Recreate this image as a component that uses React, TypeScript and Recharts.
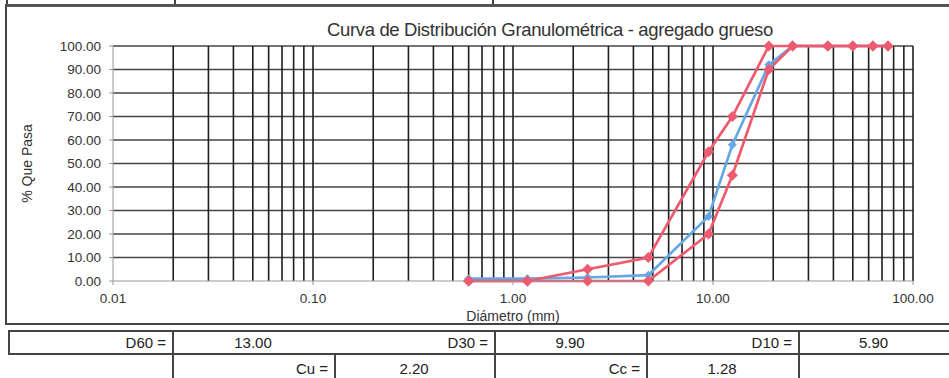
import { LineChart, Line, XAxis, YAxis, ReferenceLine } from "recharts";

// tamices (mm) y % que pasa
const sieveSizes = [0.6, 1.18, 2.36, 4.75, 9.5, 12.5, 19, 25, 37.5, 50, 63, 75];
const sample = [1, 1, 1.5, 2.5, 27.5, 58, 92, 100, 100, 100, 100, 100];
const upperLimit = [0, 0, 5, 10, 55, 70, 100, 100, 100, 100, 100, 100];
const lowerLimit = [0, 0, 0, 0, 20, 45, 90, 100, 100, 100, 100, 100];

const xTicks = [0.01, 0.1, 1, 10, 100];
const yTicks = [0, 10, 20, 30, 40, 50, 60, 70, 80, 90, 100];
const decades = [0.01, 0.1, 1, 10];
const multiples = [1, 2, 3, 4, 5, 6, 7, 8, 9];

const data = sieveSizes.map((d, i) => ({
  d,
  sample: sample[i],
  upper: upperLimit[i],
  lower: lowerLimit[i],
}));

const verticalGrid = [
  ...decades.flatMap((dec) => multiples.map((m) => +(dec * m).toPrecision(3))),
  100,
].filter((v) => v > 0.01);
const horizontalGrid = yTicks.filter((v) => v > 0);

const RED = "#ee5a6e";
const BLUE = "#66a8e6";
const FONT = "'Liberation Sans', Arial, sans-serif";

function diamond(color: string, r: number) {
  return (props: any) => {
    const { cx, cy, index } = props;
    if (cx == null || cy == null) return <g key={index} />;
    return (
      <polygon
        key={index}
        points={`${cx},${cy - r} ${cx + r},${cy} ${cx},${cy + r} ${cx - r},${cy}`}
        fill={color}
      />
    );
  };
}

const cell = (extra: React.CSSProperties): React.CSSProperties => ({
  position: "absolute",
  boxSizing: "border-box",
  fontFamily: FONT,
  fontSize: 15,
  color: "#222",
  display: "flex",
  alignItems: "center",
  ...extra,
});

export default function App() {
  const line = "2px solid #444";
  return (
    <div
      style={{
        position: "absolute",
        left: 0,
        top: 0,
        width: 949,
        height: 378,
        overflow: "hidden",
        background: "#fff",
      }}
    >
      {/* fila superior cortada */}
      <div style={{ position: "absolute", left: 6, top: 0, width: 2, height: 5, background: "#444" }} />
      <div style={{ position: "absolute", left: 174, top: 0, width: 2, height: 5, background: "#444" }} />
      <div style={{ position: "absolute", left: 492, top: 0, width: 2, height: 5, background: "#444" }} />

      {/* marco del grafico */}
      <div
        style={{
          position: "absolute",
          left: 5,
          top: 4,
          width: 980,
          height: 321,
          boxSizing: "border-box",
          borderTop: "3px solid #555",
          borderLeft: line,
          borderBottom: line,
        }}
      />

      <div
        style={{
          position: "absolute",
          left: 0,
          top: 19,
          width: 1100,
          textAlign: "center",
          fontFamily: FONT,
          fontSize: 18.5,
          letterSpacing: -0.35,
          color: "#333",
        }}
      >
        Curva de Distribución Granulométrica - agregado grueso
      </div>

      <div style={{ position: "absolute", left: 0, top: 0 }}>
        <LineChart
          width={949}
          height={330}
          data={data}
          margin={{ top: 46, right: 36, bottom: 0, left: 0 }}
        >
          <XAxis
            dataKey="d"
            type="number"
            scale="log"
            domain={[0.01, 100]}
            ticks={xTicks}
            allowDataOverflow
            tickFormatter={(v: number) => v.toFixed(2)}
            tick={{ fill: "#333", fontSize: 13.5, fontFamily: FONT }}
            stroke="#999"
            tickSize={4}
            tickMargin={8}
            height={49}
            label={{
              value: "Diámetro (mm)",
              position: "center",
              dy: 11,
              fill: "#333",
              fontSize: 14,
              fontFamily: FONT,
            }}
          />
          <YAxis
            type="number"
            domain={[0, 100]}
            ticks={yTicks}
            tickFormatter={(v: number) => v.toFixed(2)}
            tick={{ fill: "#333", fontSize: 13.5, fontFamily: FONT }}
            stroke="#999"
            tickSize={4}
            tickMargin={8}
            width={113}
            label={{
              value: "% Que Pasa",
              angle: -90,
              position: "center",
              dx: -29,
              fill: "#333",
              fontSize: 14,
              fontFamily: FONT,
            }}
          />
          {horizontalGrid.map((v) => (
            <ReferenceLine key={`h${v}`} y={v} stroke="#444" strokeWidth={1.3} />
          ))}
          {verticalGrid.map((v) => (
            <ReferenceLine key={`v${v}`} x={v} stroke="#1e1e1e" strokeWidth={1.6} />
          ))}
          <Line
            dataKey="sample"
            stroke={BLUE}
            strokeWidth={2.7}
            dot={diamond(BLUE, 4.5)}
            isAnimationActive={false}
          />
          <Line
            dataKey="lower"
            stroke={RED}
            strokeWidth={2.7}
            dot={diamond(RED, 5.5)}
            isAnimationActive={false}
          />
          <Line
            dataKey="upper"
            stroke={RED}
            strokeWidth={2.7}
            dot={diamond(RED, 5.5)}
            isAnimationActive={false}
          />
        </LineChart>
      </div>

      {/* tabla de coeficientes */}
      <div style={cell({ left: 8, top: 330, width: 166, height: 25, border: line, justifyContent: "flex-end", paddingRight: 6 })}>
        D60 =
      </div>
      <div style={cell({ left: 172, top: 330, width: 324, height: 25, borderTop: line, borderBottom: line })} />
      <div style={cell({ left: 172, top: 330, width: 162, height: 25, justifyContent: "center" })}>13.00</div>
      <div style={cell({ left: 334, top: 330, width: 162, height: 25, justifyContent: "flex-end", paddingRight: 6, borderRight: line })}>
        D30 =
      </div>
      <div style={cell({ left: 494, top: 330, width: 154, height: 25, justifyContent: "center", borderTop: line, borderBottom: line, borderRight: line })}>
        9.90
      </div>
      <div style={cell({ left: 646, top: 330, width: 154, height: 25, justifyContent: "flex-end", paddingRight: 6, borderTop: line, borderBottom: line, borderRight: line })}>
        D10 =
      </div>
      <div style={cell({ left: 798, top: 330, width: 151, height: 25, justifyContent: "center", borderTop: line, borderBottom: line })}>
        5.90
      </div>

      <div style={cell({ left: 172, top: 353, width: 164, height: 30, justifyContent: "flex-end", paddingRight: 6, borderLeft: line, borderRight: line })}>
        Cu =
      </div>
      <div style={cell({ left: 334, top: 353, width: 162, height: 30, justifyContent: "center", borderRight: line })}>2.20</div>
      <div style={cell({ left: 494, top: 353, width: 154, height: 30, justifyContent: "flex-end", paddingRight: 6, borderRight: line })}>
        Cc =
      </div>
      <div style={cell({ left: 646, top: 353, width: 154, height: 30, justifyContent: "center", borderRight: line })}>1.28</div>
    </div>
  );
}
